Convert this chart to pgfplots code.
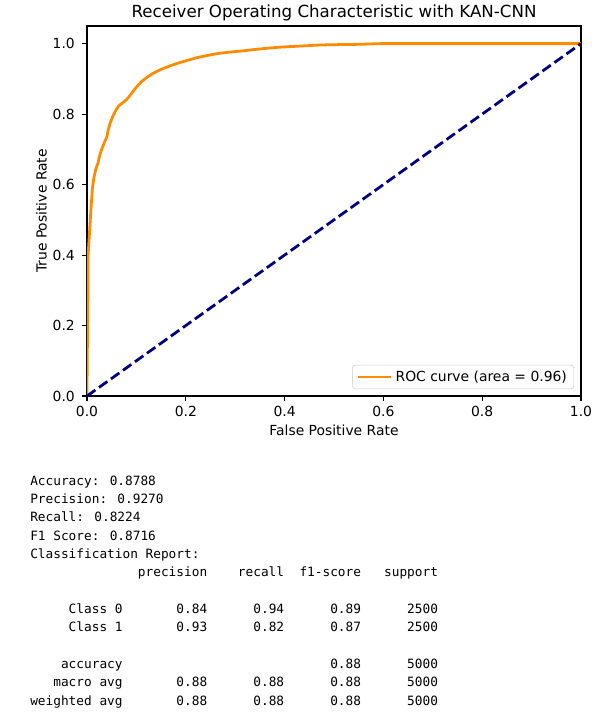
\documentclass[border=0pt]{standalone}
\usepackage{pgfplots}
\pgfplotsset{compat=1.18}
\usepackage{fontspec}
\setmainfont{DejaVu Sans}
\newfontfamily\monofont{DejaVu Sans Mono}
\definecolor{darkorange}{HTML}{FF8C00}
\definecolor{mplnavy}{HTML}{000080}
\newlength\cw
\newcommand\R[5]{\makebox[12\cw][r]{#1}\makebox[11\cw][r]{#2}\makebox[10\cw][r]{#3}\makebox[10\cw][r]{#4}\makebox[10\cw][r]{#5}}

% ROC curve (fpr, tpr)
\pgfplotstableread{
fpr tpr
0.000 0.000
0.000 0.020
0.001 0.180
0.002 0.300
0.002 0.395
0.004 0.440
0.006 0.485
0.008 0.530
0.011 0.590
0.014 0.620
0.018 0.645
0.022 0.660
0.026 0.685
0.031 0.705
0.036 0.722
0.040 0.735
0.043 0.755
0.047 0.775
0.052 0.793
0.058 0.810
0.064 0.823
0.072 0.832
0.080 0.841
0.087 0.853
0.094 0.866
0.102 0.880
0.111 0.893
0.122 0.905
0.134 0.916
0.150 0.927
0.168 0.937
0.185 0.945
0.202 0.952
0.222 0.960
0.242 0.966
0.265 0.972
0.289 0.976
0.312 0.979
0.337 0.983
0.365 0.987
0.391 0.990
0.430 0.993
0.470 0.996
0.500 0.997
0.550 0.998
0.593 1.000
1.000 1.000
}\roc

\begin{document}
\begin{tikzpicture}
\path[use as bounding box] (0,0) rectangle (443.52pt,-520.56pt);
\begin{axis}[
  at={(62.64pt,-18.72pt)}, anchor=north west,
  width=355.68pt, height=266.4pt, scale only axis,
  xmin=0, xmax=1, ymin=0, ymax=1.05,
  xtick={0,0.2,0.4,0.6,0.8,1}, xticklabels={0.0,0.2,0.4,0.6,0.8,1.0},
  ytick={0,0.2,0.4,0.6,0.8,1}, yticklabels={0.0,0.2,0.4,0.6,0.8,1.0},
  tick pos=left, tick align=outside, major tick length=3.5pt,
  tick style={black, line width=0.8pt},
  axis line style={line width=0.8pt},
  font=\fontsize{10}{12}\selectfont,
  ticklabel style={font=\fontsize{10}{12}\selectfont},
  xticklabel style={anchor=base, yshift=-11.4pt},
  yticklabel style={anchor=east, inner sep=0pt, xshift=-5.1pt},
  title={Receiver Operating Characteristic with KAN-CNN},
  every axis title/.style={at={(axis description cs:0.5,1.0236)}, anchor=base, font=\fontsize{12}{14}\selectfont},
  xlabel={False Positive Rate},
  every axis x label/.style={at={(axis description cs:0.5,-0.1057)}, anchor=base},
  ylabel={True Positive Rate},
  every axis y label/.style={at={(axis description cs:-0.0815,0.5)}, rotate=90, anchor=base},
  legend style={at={(axis description cs:0.986,0.0187)}, anchor=south east,
    draw=black!20, rounded corners=2pt, font=\fontsize{10}{12}\selectfont,
    inner xsep=3pt, inner ysep=2pt},
  legend cell align=left,
  legend image code/.code={\path (0pt,0pt) -- (24pt,0pt); \draw[#1] (0pt,0pt) -- (20pt,0pt);},
]
\addplot[darkorange, line width=2pt] table[x=fpr, y=tpr] {\roc};
\addlegendentry{ROC curve (area = 0.96)}
\addplot[mplnavy, line width=2pt, dash pattern=on 7.4pt off 3.2pt, forget plot] coordinates {(0,0) (1,1)};
\end{axis}
\node[anchor=base west, inner sep=0pt] at (21.6pt,-349.2pt) {%
  \monofont\fontsize{9.2}{13.2}\selectfont\settowidth\cw{0}%
  \begin{tabular}[t]{@{}l@{}}
  Accuracy: 0.8788\\
  Precision: 0.9270\\
  Recall: 0.8224\\
  F1 Score: 0.8716\\
  Classification Report:\\
  \R{}{precision}{recall}{f1-score}{support}\\
  \\
  \R{Class 0}{0.84}{0.94}{0.89}{2500}\\
  \R{Class 1}{0.93}{0.82}{0.87}{2500}\\
  \\
  \R{accuracy}{}{}{0.88}{5000}\\
  \R{macro avg}{0.88}{0.88}{0.88}{5000}\\
  \R{weighted avg}{0.88}{0.88}{0.88}{5000}
  \end{tabular}};
\end{tikzpicture}
\end{document}
